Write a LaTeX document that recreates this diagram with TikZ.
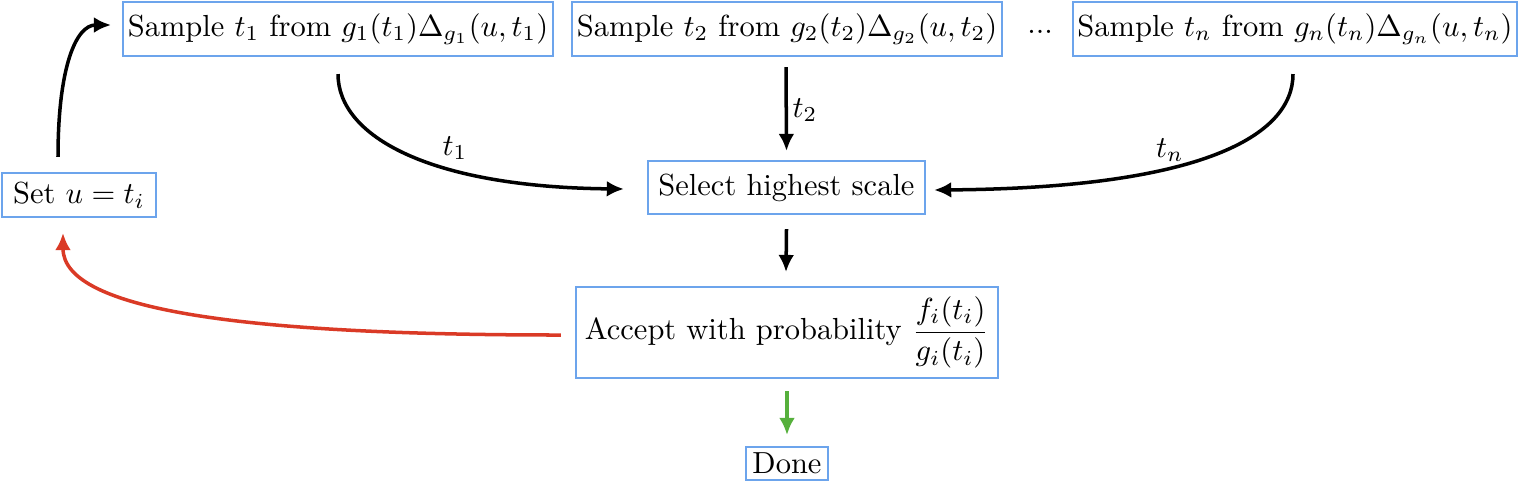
\documentclass[tikz,border=0pt]{standalone}
\usepackage{amsmath}
\usetikzlibrary{arrows.meta,calc}
\definecolor{boxblue}{RGB}{108,164,236}
\definecolor{backred}{RGB}{218,58,38}
\definecolor{donegreen}{RGB}{86,176,60}
\begin{document}
\begin{tikzpicture}[x=0.328pt,y=-0.328pt,
  box/.style={draw=boxblue, line width=0.7pt, inner xsep=1pt, inner ysep=1pt, align=center},
  conn/.style={line width=1.15pt, -{Latex[length=5.6pt,width=5.2pt]}},
  lbl/.style={inner sep=0pt}]
\useasboundingbox (0,0) rectangle (1520,482);
\node[box, minimum width=50.5pt, minimum height=14.4pt] (Set) at (79,195) {Set $u = t_i$};
\node[box, minimum width=141pt, minimum height=17.7pt] (S1) at (338,29) {Sample $t_1$ from $g_1(t_1)\Delta_{g_1}(u,t_1)$};
\node[box, minimum width=141pt, minimum height=17.7pt] (S2) at (787,29) {Sample $t_2$ from $g_2(t_2)\Delta_{g_2}(u,t_2)$};
\node[lbl] (dots) at (1040,32) {...};
\node[box, minimum width=145.6pt, minimum height=17.7pt] (Sn) at (1295,29) {Sample $t_n$ from $g_n(t_n)\Delta_{g_n}(u,t_n)$};
\node[box, minimum width=90.9pt, minimum height=17.4pt] (Sel) at (786.5,187.5) {Select highest scale};
\node[box, minimum width=138.4pt, minimum height=29.8pt] (Acc) at (787,332.5) {Accept with probability $\dfrac{f_i(t_i)}{g_i(t_i)}$};
\node[box, minimum width=26.9pt, minimum height=10.8pt] (Done) at (787,463.5) {Done};

\draw[conn] ($(Set.north)+(-21,-15)$) .. controls +(0,-90) and +(-35,0) .. ($(S1.west)+(-11,-4)$);
\draw[conn] ($(S1.south)+(0,17)$) .. controls +(0,62) and +(-195,-2) .. ($(Sel.west)+(-23,1.5)$);
\node[lbl] (l1) at (455,148) {$t_1$};
\draw[conn] ($(S2.south)+(-1,10)$) -- ($(Sel.north)+(0,-9)$);
\node[lbl] (l2) at (805,110) {$t_2$};
\draw[conn] ($(Sn.south)+(-2,17)$) .. controls +(0,62) and +(267,-2) .. ($(Sel.east)+(8,2.5)$);
\node[lbl] (ln) at (1170,150) {$t_n$};
\draw[conn] ($(Sel.south)+(0,14)$) -- ($(Acc.north)+(-1,-14)$);
\draw[conn, backred] ($(Acc.west)+(-14,2.5)$) .. controls +(-312,0) and +(0,78) .. ($(Set.south)+(-16,15)$);
\draw[conn, donegreen] ($(Acc.south)+(0,12)$) -- ($(Done.north)+(0,-11)$);
\end{tikzpicture}
\end{document}
